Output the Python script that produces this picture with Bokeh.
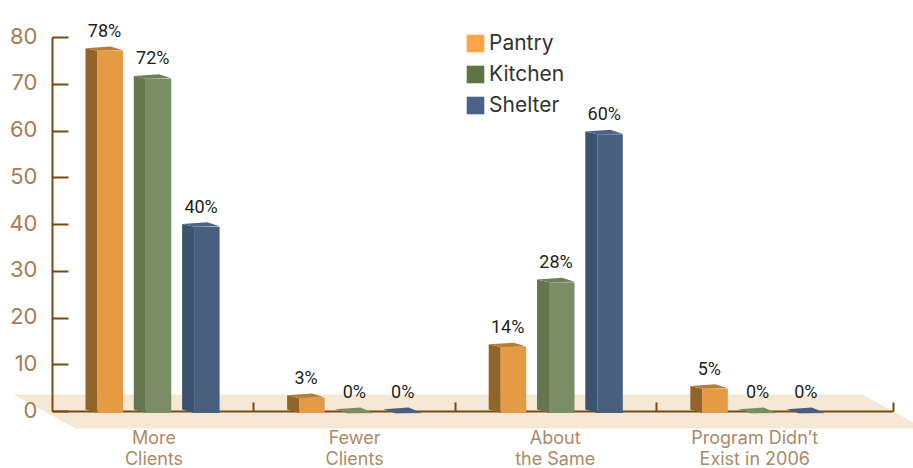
from bokeh.plotting import figure
from bokeh.models import Range1d, LinearAxis, FixedTicker, Legend, LegendItem, ColumnDataSource
from bokeh.core.properties import value
from bokeh.embed import file_html
from bokeh.resources import INLINE

categories = ["More\nClients", "Fewer\nClients", "About\nthe Same", "Program Didn\u2019t\nExist in 2006"]
series_names = ["Pantry", "Kitchen", "Shelter"]
pantry = [78, 3, 14, 5]
kitchen = [72, 0, 28, 0]
shelter = [40, 0, 60, 0]
y_ticks = [0, 10, 20, 30, 40, 50, 60, 70, 80]
group_ticks = [0.494, 1.496, 2.491, 3.668]
label_positions = [0, 0.995, 1.99, 2.98]

front_colors = ["#E59A44", "#7B8D65", "#485F80"]
side_colors = ["#93642A", "#65754F", "#3D526F"]
top_colors = ["#B57D35", "#6F8059", "#4B6384"]
legend_colors = ["#FDA546", "#5E7541", "#4A6285"]

PX_X = 201.6   # px per category
PX_Y = 4.675   # px per value unit
def X(px): return (px - 153.5) / PX_X
def Y(px): return (411 - px) / PX_Y
def dx(px): return px / PX_X
def dy(px): return px / PX_Y

p = figure(width=913, height=468, output_backend="svg", toolbar_location=None,
           x_range=Range1d(X(0), X(913)), y_range=Range1d(Y(468), Y(0)),
           min_border=0, outline_line_color=None, background_fill_color=None,
           border_fill_color=None, x_axis_type=None, y_axis_type=None)
p.grid.visible = False

# floor
p.patch([X(13), X(862), X(924), X(75)], [Y(394), Y(394), Y(428), Y(428)],
        fill_color="#F5E9D5", line_color=None, level="image")

AX = "#7A4A14"
TICK_LBL = "#A97C50"
CAT_LBL = "#AB8A66"
FONT = "Inter"

yaxis = LinearAxis(ticker=FixedTicker(ticks=y_ticks), fixed_location=X(52), bounds=(0, 80))
yaxis.axis_line_color = AX
yaxis.axis_line_width = 2
yaxis.major_tick_line_color = AX
yaxis.major_tick_line_width = 2
yaxis.major_tick_in = 16
yaxis.major_tick_out = 0
yaxis.minor_tick_line_color = None
yaxis.major_label_text_font_size = "0px"
yaxis.major_label_text_color = None
yaxis.level = "underlay"
p.add_layout(yaxis, "left")

# the printed labels sit a little above their ticks
LIFT = 0.4
ylabaxis = LinearAxis(ticker=FixedTicker(ticks=[t + LIFT for t in y_ticks]), fixed_location=X(52),
                      major_label_overrides={t + LIFT: str(t) for t in y_ticks})
ylabaxis.axis_line_color = None
ylabaxis.major_tick_line_color = None
ylabaxis.minor_tick_line_color = None
ylabaxis.major_tick_in = 0
ylabaxis.major_tick_out = 0
ylabaxis.major_label_standoff = 15
ylabaxis.major_label_text_color = TICK_LBL
ylabaxis.major_label_text_font = FONT
ylabaxis.major_label_text_font_size = "22px"
ylabaxis.level = "underlay"
p.add_layout(ylabaxis, "left")

xaxis = LinearAxis(ticker=FixedTicker(ticks=group_ticks), fixed_location=0, bounds=(X(52), X(893)))
xaxis.axis_line_color = AX
xaxis.axis_line_width = 2
xaxis.major_tick_line_color = AX
xaxis.major_tick_line_width = 2
xaxis.major_tick_in = 9
xaxis.major_tick_out = 0
xaxis.minor_tick_line_color = None
xaxis.major_label_text_font_size = "0px"
xaxis.major_label_text_color = None
xaxis.level = "underlay"
p.add_layout(xaxis, "below")

labaxis = LinearAxis(ticker=FixedTicker(ticks=label_positions), fixed_location=0,
                     major_label_overrides=dict(zip(label_positions, categories)))
labaxis.axis_line_color = None
labaxis.major_tick_line_color = None
labaxis.minor_tick_line_color = None
labaxis.major_label_standoff = 9
labaxis.major_label_text_color = CAT_LBL
labaxis.major_label_text_font = FONT
labaxis.major_label_text_font_size = "18px"
labaxis.major_label_text_line_height = 1.0
labaxis.level = "underlay"
p.add_layout(labaxis, "below")

# 3D bars, built from the values
GROUP = -68.5; PITCH = 48.3; DEPTH = 12; WIDTH = 25.5
items = []
for k, vals in enumerate([pantry, kitchen, shelter]):
    for i, v in enumerate(vals):
        left = i + dx(GROUP + PITCH * k)
        ftl = left + dx(DEPTH)
        ftr = ftl + dx(WIDTH)
        ytop = 0.99 * v + 0.5
        yfront = ytop - dy(2.7 if v > 0 else 4)
        ybase = -dy(1.5)
        yleftbase = dy(2)
        p.patch([left, ftl, ftl, left], [ytop, yfront, ybase, yleftbase],
                fill_color=side_colors[k], line_color=None)
        p.quad(left=[ftl], right=[ftr], top=[yfront], bottom=[ybase],
               fill_color=front_colors[k], line_color=None)
        p.patch([left, left + dx(25), ftr, ftl],
                [ytop, ytop + dy(1.7), yfront + dy(0.5), yfront],
                fill_color=top_colors[k] if v > 0 else front_colors[k], line_color=None)
    lx = [i + dx(GROUP + PITCH * k + 19) for i in range(4)]
    ly = [0.99 * v + 0.5 for v in vals]
    src = ColumnDataSource(dict(x=lx, y=ly, t=[f"{v}%" for v in vals]))
    p.text(x="x", y="y", text="t", source=src, text_align="center", text_baseline="middle",
           y_offset=-18, text_color="#231F20", text_font=value("Roboto"),
           text_font_size="18px")
    r = p.quad(left=[float("nan")], right=[float("nan")], top=[float("nan")], bottom=[float("nan")],
               fill_color=legend_colors[k], line_color=None)
    items.append(LegendItem(label=series_names[k], renderers=[r]))

legend = Legend(items=items, location=(464, 351), orientation="vertical",
                glyph_width=22, glyph_height=22, label_standoff=3, spacing=6,
                padding=0, margin=0, border_line_color=None, background_fill_alpha=0,
                label_text_font=FONT, label_text_font_size="21px", label_text_color="#333333")
p.add_layout(legend, "center")

open("out.html", "w").write(file_html(p, INLINE))
